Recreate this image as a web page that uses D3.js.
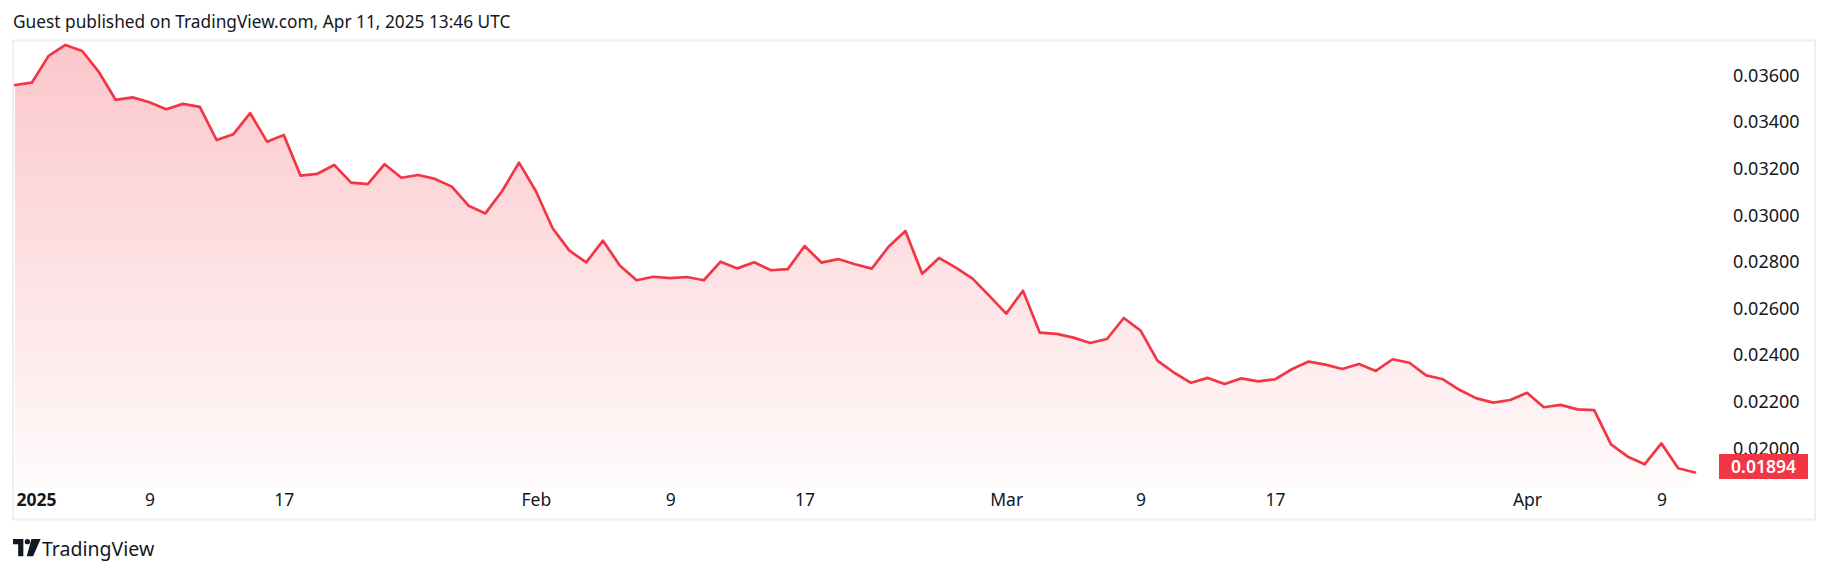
<!DOCTYPE html>
<html>
<head>
<meta charset="utf-8">
<script src="https://cdn.jsdelivr.net/npm/d3@7"></script>
<style>
  html, body { margin: 0; padding: 0; background: #ffffff; }
  svg { display: block; }
  text { font-family: "Noto Sans", "Open Sans", sans-serif; }
</style>
</head>
<body>
<svg id="chart" width="1830" height="574"></svg>
<script>
// ---------- data ----------
const titleText = "Guest published on TradingView.com, Apr 11, 2025 13:46 UTC";
const startDate = "2025-01-01";
const janCloses = [0.03557, 0.03567, 0.03682, 0.03729, 0.03703, 0.03612, 0.03493, 0.03504, 0.03483, 0.03453,
  0.03476, 0.03463, 0.03321, 0.03346, 0.03436, 0.03314, 0.03342, 0.03168, 0.03176, 0.03214,
  0.03138, 0.03132, 0.03217, 0.03159, 0.03171, 0.03154, 0.03121, 0.03039, 0.03006, 0.03102, 0.03224];
const febCloses = [0.03102, 0.02942, 0.02846, 0.02796, 0.02889, 0.02782, 0.02719, 0.02734, 0.02728, 0.02733,
  0.02719, 0.02799, 0.02770, 0.02796, 0.02762, 0.02767, 0.02866, 0.02795, 0.02810, 0.02788,
  0.02769, 0.02863, 0.02930, 0.02747, 0.02815, 0.02773, 0.02726, 0.02652];
const marCloses = [0.02576, 0.02674, 0.02494, 0.02489, 0.02473, 0.02450, 0.02467, 0.02557, 0.02503, 0.02374,
  0.02322, 0.02279, 0.02300, 0.02274, 0.02298, 0.02285, 0.02294, 0.02337, 0.02370, 0.02357,
  0.02338, 0.02360, 0.02330, 0.02380, 0.02365, 0.02311, 0.02294, 0.02248, 0.02212, 0.02194, 0.02205];
const aprCloses = [0.02236, 0.02174, 0.02184, 0.02165, 0.02162, 0.02015, 0.01962, 0.01929, 0.02019, 0.01912, 0.01894];

const priceTicks = [0.020, 0.022, 0.024, 0.026, 0.028, 0.030, 0.032, 0.034, 0.036];
const timeTickDates = ["2025-01-01", "2025-01-09", "2025-01-17", "2025-02-01", "2025-02-09", "2025-02-17",
  "2025-03-01", "2025-03-09", "2025-03-17", "2025-04-01", "2025-04-09"];
const timeTickLabels = ["2025", "9", "17", "Feb", "9", "17", "Mar", "9", "17", "Apr", "9"];
const lastPriceLabel = "0.01894";
const brandText = "TradingView";

// ---------- build series ----------
const closes = [].concat(janCloses, febCloses, marCloses, aprCloses);
const parse = d3.utcParse("%Y-%m-%d");
const t0 = parse(startDate);
const series = closes.map((v, i) => ({ date: d3.utcDay.offset(t0, i), value: v }));

// ---------- layout ----------
const svg = d3.select("#chart");
const W = 1830, H = 574;
const frame = { left: 13, top: 40.5, right: 1815, bottom: 519.5 };
const plot = { left: 14, right: 1716, top: 41, bottom: 487 };
const red = "#F23645";

svg.append("rect").attr("width", W).attr("height", H).attr("fill", "#ffffff");

// title
svg.append("text")
  .attr("x", 13).attr("y", 28)
  .attr("font-size", 17.3).attr("fill", "#131722")
  .text(titleText);

// frame
svg.append("rect")
  .attr("x", frame.left).attr("y", frame.top)
  .attr("width", frame.right - frame.left).attr("height", frame.bottom - frame.top)
  .attr("fill", "none").attr("stroke", "#eeeff2").attr("stroke-width", 2);

// scales
const x = d3.scaleUtc()
  .domain([series[0].date, series[series.length - 1].date])
  .range([15, 1695]);
const y = d3.scaleLinear()
  .domain([0.020, 0.036])
  .range([447.8, 75]);

// gradient
const defs = svg.append("defs");
const grad = defs.append("linearGradient")
  .attr("id", "areaGrad").attr("gradientUnits", "userSpaceOnUse")
  .attr("x1", 0).attr("x2", 0)
  .attr("y1", y(d3.max(closes))).attr("y2", plot.bottom);
grad.append("stop").attr("offset", "0%").attr("stop-color", red).attr("stop-opacity", 0.28);
grad.append("stop").attr("offset", "100%").attr("stop-color", red).attr("stop-opacity", 0.02);

defs.append("clipPath").attr("id", "plotClip")
  .append("rect").attr("x", plot.left).attr("y", plot.top)
  .attr("width", plot.right - plot.left).attr("height", plot.bottom - plot.top);

const g = svg.append("g").attr("clip-path", "url(#plotClip)");

const area = d3.area()
  .x(d => x(d.date))
  .y0(plot.bottom)
  .y1(d => y(d.value));
const line = d3.line()
  .x(d => x(d.date))
  .y(d => y(d.value));

g.append("path").datum(series).attr("d", area).attr("fill", "url(#areaGrad)");
g.append("path").datum(series).attr("d", line)
  .attr("fill", "none").attr("stroke", red).attr("stroke-width", 2.7)
  .attr("stroke-linejoin", "round").attr("stroke-linecap", "round");

// price axis
const yAxis = d3.axisRight(y)
  .tickValues(priceTicks)
  .tickSize(0).tickPadding(0)
  .tickFormat(d3.format(".5f"));
const ya = svg.append("g").attr("transform", "translate(1733,0)").call(yAxis);
ya.select(".domain").remove();
ya.selectAll("text")
  .attr("font-family", "\"Noto Sans\", sans-serif")
  .attr("font-size", 18).attr("fill", "#131722").attr("dy", "0.35em");

// last price label (drawn over the axis, as in the reference)
const last = series[series.length - 1];
const lpY = y(last.value) - 6;
svg.append("rect")
  .attr("x", 1719).attr("y", lpY - 12.5)
  .attr("width", 89).attr("height", 25)
  .attr("fill", red);
svg.append("text")
  .attr("x", 1763.5).attr("y", lpY).attr("dy", "0.35em")
  .attr("text-anchor", "middle").attr("font-size", 17.5).attr("font-weight", 600)
  .attr("fill", "#ffffff")
  .text(lastPriceLabel);

// time axis
const tickDates = timeTickDates.map(parse);
const xAxis = d3.axisBottom(x)
  .tickValues(tickDates)
  .tickSize(0).tickPadding(0)
  .tickFormat((d, i) => timeTickLabels[i]);
const xa = svg.append("g").attr("transform", "translate(0,500)").call(xAxis);
xa.select(".domain").remove();
xa.selectAll("text")
  .attr("font-family", "\"Noto Sans\", sans-serif")
  .attr("font-size", 17.5).attr("fill", "#131722").attr("dy", "0.35em")
  .attr("font-weight", (d, i) => i === 0 ? 700 : 400);
// keep first label inside the pane (left aligned at the edge)
xa.selectAll("text").filter((d, i) => i === 0)
  .attr("text-anchor", "start").attr("x", 16 - x(tickDates[0]));

// brand footer
const logo = svg.append("g").attr("transform", "translate(13,539) scale(1.15)").attr("fill", "#131722");
logo.append("path").attr("d", "M0,0 H9 V15 H4.5 V4.5 H0 Z");
logo.append("circle").attr("cx", 12.5).attr("cy", 2.3).attr("r", 2.3);
logo.append("path").attr("d", "M16,0 H24 L17.5,15 H12 Z");
svg.append("text")
  .attr("x", 42).attr("y", 556)
  .attr("font-size", 19.5).attr("fill", "#131722")
  .text(brandText);
</script>
</body>
</html>
